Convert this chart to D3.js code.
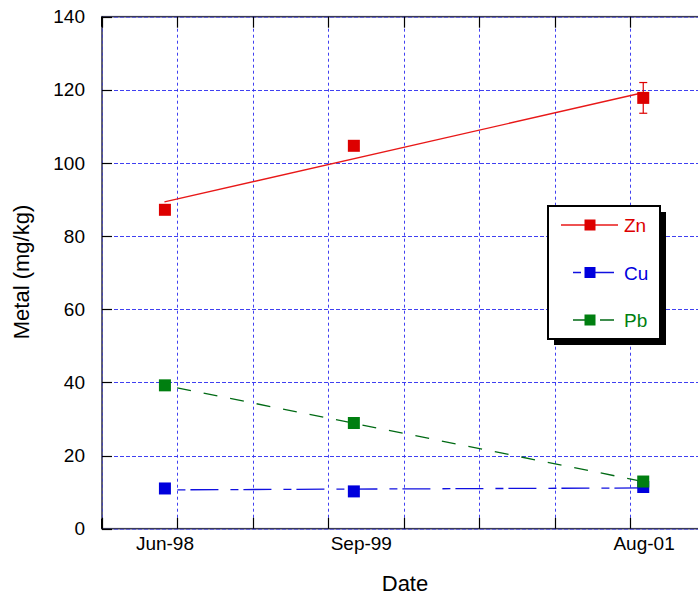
<!DOCTYPE html>
<html>
<head>
<meta charset="utf-8">
<script src="https://cdn.jsdelivr.net/npm/d3@7"></script>
<style>
  body { margin: 0; background: #fff; }
  svg { display: block; font-family: "Liberation Sans", Arial, sans-serif; }
</style>
</head>
<body>
<div id="chart"></div>
<script>
// sample dates and measured metal concentrations (mg/kg)
var sampleDates = ["1998-06-01", "1999-09-01", "2001-08-01"];
var labelDates = ["1998-06-01", "1999-09-19", "2001-08-03"];
var zn = [87.2, 104.7, 117.8];
var znErr = [0, 0, 4.2];
var cu = [11.0, 10.2, 11.4];
var pb = [39.2, 28.9, 12.9];
var yTicks = [0, 20, 40, 60, 80, 100, 120, 140];

var width = 698,
    height = 596,
    margin = {top: 16.7, right: -8, bottom: 67.3, left: 102},
    markerSize = 12;

var parse = d3.timeParse("%Y-%m-%d");
var dates = sampleDates.map(parse);

var series = [
    {name: "Zn", values: zn, err: znErr, color: "#dd0000", line: "#e81818", dash: null, offset: 0},
    {name: "Cu", values: cu, err: null, color: "#0000dd", line: "#1010e0", dash: "8,5,28,12", offset: 40},
    {name: "Pb", values: pb, err: null, color: "#007f10", line: "#006a14", dash: "14,13", offset: 14}
];

var svg = d3.select("#chart").append("svg")
    .attr("width", width)
    .attr("height", height);

var x = d3.scaleTime()
    .domain([new Date(1998, 0, 1), new Date(2002, 0, 1)])
    .range([margin.left, width - margin.right]);

var y = d3.scaleLinear()
    .domain([0, 140])
    .range([height - margin.bottom, margin.top]);

var x0 = x.range()[0], x1 = x.range()[1],
    y0 = y.range()[0], y1 = y.range()[1];

var gridTicks = x.ticks(d3.timeMonth.every(6));

// frame
svg.append("rect")
    .attr("x", x0).attr("y", y1)
    .attr("width", x1 - x0).attr("height", y0 - y1)
    .attr("fill", "none")
    .attr("stroke", "#3a3a55")
    .attr("stroke-width", 1.6);

// grid lines
var grid = svg.append("g").attr("class", "grid")
    .attr("stroke", "#2b2bf0")
    .attr("stroke-width", 1)
    .attr("stroke-dasharray", "4,2");

grid.selectAll("line.h")
    .data(yTicks)
    .enter().append("line")
    .attr("x1", x0).attr("x2", x1)
    .attr("y1", function(d) { return Math.round(y(d)) + 0.5; })
    .attr("y2", function(d) { return Math.round(y(d)) + 0.5; })
    .attr("stroke-opacity", function(d) { return (d === 0 || d === 140) ? 0.5 : 0.9; });

grid.selectAll("line.v")
    .data(gridTicks)
    .enter().append("line")
    .attr("x1", function(d) { return Math.round(x(d)) + 0.5; })
    .attr("x2", function(d) { return Math.round(x(d)) + 0.5; })
    .attr("y1", y1).attr("y2", y0)
    .attr("stroke-dasharray", "3,3")
    .attr("stroke-opacity", function(d, i) { return i === 0 ? 0.5 : 0.9; });

// inside tick marks on all sides
var ticks = svg.append("g").attr("stroke", "#000").attr("stroke-width", 1.2);
gridTicks.forEach(function(d) {
    var px = Math.round(x(d)) + 0.5;
    ticks.append("line").attr("x1", px).attr("x2", px).attr("y1", y0).attr("y2", y0 - 11);
    ticks.append("line").attr("x1", px).attr("x2", px).attr("y1", y1).attr("y2", y1 + 11);
});
yTicks.forEach(function(d) {
    var py = Math.round(y(d)) + 0.5;
    ticks.append("line").attr("x1", x0).attr("x2", x0 + 10).attr("y1", py).attr("y2", py);
});
// solid axis corners
ticks.append("line").attr("x1", x0).attr("x2", x0).attr("y1", y1).attr("y2", y1 + 10).attr("stroke-width", 2);
ticks.append("line").attr("x1", x0).attr("x2", x0).attr("y1", y0).attr("y2", y0 - 10).attr("stroke-width", 2);

// y tick labels
svg.append("g")
    .attr("transform", "translate(" + x0 + ",0)")
    .call(d3.axisLeft(y).tickValues(yTicks).tickSizeInner(0).tickSizeOuter(0).tickPadding(17))
    .call(function(g) {
        g.select(".domain").remove();
        g.selectAll("text").attr("font-size", 19).attr("fill", "#000")
            .attr("font-family", "Liberation Sans, Arial, sans-serif");
    });

// x tick labels
svg.append("g")
    .attr("transform", "translate(0," + y0 + ")")
    .call(d3.axisBottom(x).tickValues(labelDates.map(parse))
        .tickFormat(d3.timeFormat("%b-%y"))
        .tickSizeInner(0).tickSizeOuter(0).tickPadding(8))
    .call(function(g) {
        g.select(".domain").remove();
        g.selectAll("text").attr("font-size", 19).attr("fill", "#000")
            .attr("font-family", "Liberation Sans, Arial, sans-serif");
    });

// axis titles
svg.append("text")
    .attr("x", 405).attr("y", 591)
    .attr("text-anchor", "middle")
    .attr("font-size", 22)
    .text("Date");

svg.append("text")
    .attr("transform", "translate(29,272) rotate(-90)")
    .attr("text-anchor", "middle")
    .attr("font-size", 22)
    .text("Metal (mg/kg)");

// least squares trend line through each series
function fit(values) {
    var xs = dates.map(function(d) { return +d; });
    var mx = d3.mean(xs), my = d3.mean(values);
    var sxy = d3.sum(xs, function(v, i) { return (v - mx) * (values[i] - my); });
    var sxx = d3.sum(xs, function(v) { return (v - mx) * (v - mx); });
    var b = sxy / sxx, a = my - b * mx;
    return [dates[0], dates[dates.length - 1]].map(function(d) {
        return {date: d, value: a + b * (+d)};
    });
}

var trend = d3.line()
    .x(function(d) { return x(d.date); })
    .y(function(d) { return y(d.value); });

var plot = svg.append("g");

series.forEach(function(s) {
    plot.append("path")
        .datum(fit(s.values))
        .attr("d", trend)
        .attr("fill", "none")
        .attr("stroke", s.line)
        .attr("stroke-width", 1.3)
        .attr("stroke-dasharray", s.dash)
        .attr("stroke-dashoffset", s.offset);
});

series.forEach(function(s) {
    var g = plot.append("g");
    if (s.err) {
        s.values.forEach(function(v, i) {
            if (!s.err[i]) return;
            var px = x(dates[i]) + 0.5;
            var top = y(v + s.err[i]), bot = y(v - s.err[i]);
            g.append("line").attr("x1", px).attr("x2", px).attr("y1", top).attr("y2", bot)
                .attr("stroke", s.color).attr("stroke-width", 1.2);
            [top, bot].forEach(function(cy) {
                g.append("line").attr("x1", px - 4).attr("x2", px + 4).attr("y1", cy).attr("y2", cy)
                    .attr("stroke", s.color).attr("stroke-width", 1.2);
            });
        });
    }
    g.selectAll("rect")
        .data(s.values)
        .enter().append("rect")
        .attr("x", function(d, i) { return x(dates[i]) - markerSize / 2 + 0.5; })
        .attr("y", function(d) { return y(d) - markerSize / 2; })
        .attr("width", markerSize)
        .attr("height", markerSize)
        .attr("fill", s.color);
});

// legend
var legend = svg.append("g").attr("transform", "translate(548,206)");
legend.append("rect")
    .attr("x", 6).attr("y", 6)
    .attr("width", 112).attr("height", 133)
    .attr("fill", "#000");
legend.append("rect")
    .attr("x", 0).attr("y", 0)
    .attr("width", 112).attr("height", 133)
    .attr("fill", "#fff")
    .attr("stroke", "#000")
    .attr("stroke-width", 2);

var rows = legend.selectAll("g.row")
    .data(series)
    .enter().append("g")
    .attr("class", "row")
    .attr("transform", function(d, i) { return "translate(0," + (19 + i * 47.5) + ")"; });

rows.append("line")
    .attr("x1", 13).attr("x2", 70)
    .attr("y1", 0).attr("y2", 0)
    .attr("stroke", function(d) { return d.line; })
    .attr("stroke-width", 1.3)
    .attr("stroke-dasharray", function(d) { return d.dash; })
    .attr("stroke-dashoffset", function(d) { return d.offset + 1; });

rows.append("rect")
    .attr("x", 42 - 5.5).attr("y", -5.5)
    .attr("width", 11).attr("height", 11)
    .attr("fill", function(d) { return d.color; });

rows.append("text")
    .attr("x", 76).attr("y", 7)
    .attr("font-size", 19)
    .attr("fill", function(d) { return d.color; })
    .text(function(d) { return d.name; });
</script>
</body>
</html>
